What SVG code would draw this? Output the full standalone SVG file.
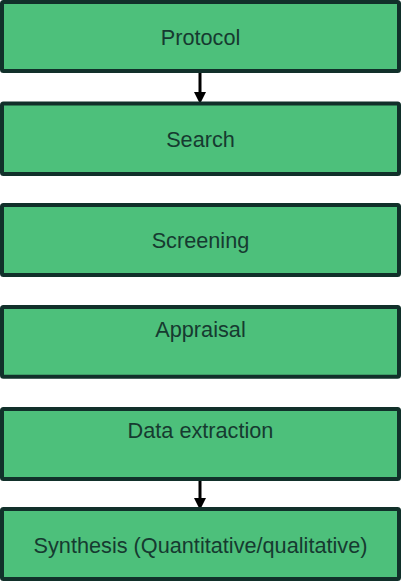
<svg xmlns="http://www.w3.org/2000/svg" width="401" height="582" viewBox="0 0 401 582">
  <style>
    .box { fill: #4dc07b; stroke: #11302a; stroke-width: 4; }
    .label { font-family: "Liberation Sans", Arial, sans-serif; font-size: 21.7px; fill: #163a30; text-anchor: middle; }
    .edge { stroke: #000; stroke-width: 3; fill: none; }
    .head { fill: #000; }
  </style>
  <rect width="401" height="582" fill="#fff"/>
  <g id="connectors">
    <line class="edge" x1="200" y1="73" x2="200" y2="93"/>
    <polygon class="head" points="194,92 206,92 200,104"/>
    <line class="edge" x1="200" y1="481" x2="200" y2="499"/>
    <polygon class="head" points="194,498 206,498 200,510"/>
  </g>
  <g id="protocol">
    <rect class="box" x="2" y="2" width="397" height="69" rx="1.5"/>
    <text class="label" x="200.5" y="45">Protocol</text>
  </g>
  <g id="search">
    <rect class="box" x="2" y="103.5" width="397" height="70.5" rx="1.5"/>
    <text class="label" x="200.5" y="146.5">Search</text>
  </g>
  <g id="screening">
    <rect class="box" x="2" y="205" width="397" height="70" rx="1.5"/>
    <text class="label" x="200.5" y="248.3">Screening</text>
  </g>
  <g id="appraisal">
    <rect class="box" x="2" y="307" width="397" height="69.7" rx="1.5"/>
    <text class="label" x="200.5" y="336.7">Appraisal</text>
  </g>
  <g id="data-extraction">
    <rect class="box" x="2" y="409" width="397" height="70" rx="1.5"/>
    <text class="label" x="200.5" y="437.7">Data extraction</text>
  </g>
  <g id="synthesis">
    <rect class="box" x="2" y="509" width="397" height="70" rx="1.5"/>
    <text class="label" x="200.5" y="552.7">Synthesis (Quantitative/qualitative)</text>
  </g>
</svg>
